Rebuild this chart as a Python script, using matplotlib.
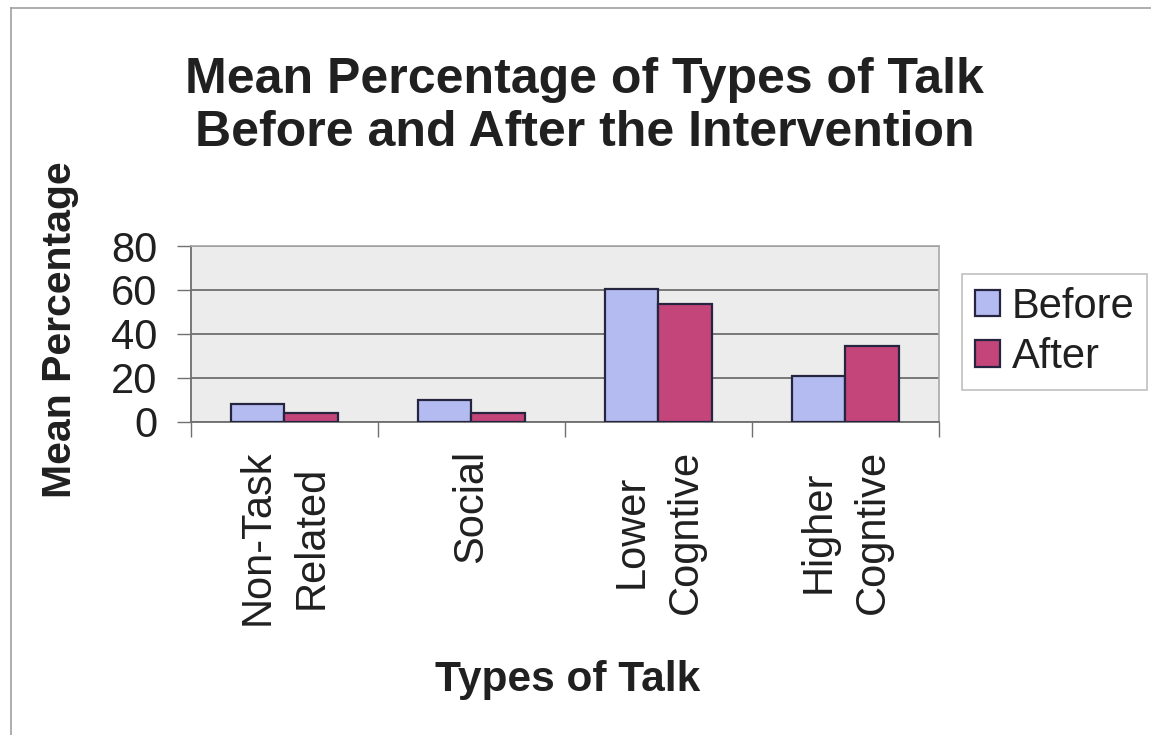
import matplotlib
matplotlib.use("Agg")
import matplotlib.pyplot as plt
from matplotlib.lines import Line2D
import numpy as np

categories = ["Non-Task\nRelated", "Social", "Lower\nCogntive", "Higher\nCogntive"]
before = [8, 10, 60.5, 21]
after = [4, 4, 53.5, 34.5]
series_names = ["Before", "After"]
yticks = [0, 20, 40, 60, 80]

plt.rcParams['font.family'] = ['Liberation Sans', 'DejaVu Sans']

fig = plt.figure(figsize=(11.51, 7.35), dpi=100)
fig.patch.set_facecolor('white')
# chart-area border (top and left visible in the scan)
fig.add_artist(Line2D([0.0095, 0.0095], [0.0, 0.989], transform=fig.transFigure,
                      color='#a0a0a0', linewidth=1.2))
fig.add_artist(Line2D([0.0095, 1.0], [0.989, 0.989], transform=fig.transFigure,
                      color='#a0a0a0', linewidth=1.2))

ax = fig.add_axes([0.1659, 0.4259, 0.6499, 0.2394])
ax.set_facecolor('#ececec')

x = np.arange(len(categories))
w = 0.2857
ax.bar(x - w / 2, before, w, color='#b3bbf1', edgecolor='#252540', linewidth=1.6,
       label=series_names[0], zorder=3)
ax.bar(x + w / 2, after, w, color='#c4457a', edgecolor='#252540', linewidth=1.6,
       label=series_names[1], zorder=3)

ax.set_xlim(-0.5, len(categories) - 0.5)
ax.set_ylim(0, 80)
ax.set_yticks(yticks)
ax.set_yticklabels([str(v) for v in yticks], fontsize=30, color='#202020')
ax.yaxis.grid(True, color='#6e6e6e', linewidth=1.3, zorder=1)
ax.set_axisbelow(True)

ax.set_xticks(np.arange(-0.5, len(categories)), minor=False)
ax.set_xticklabels([])
ax.set_xticks(x, minor=True)
ax.set_xticklabels(categories, minor=True, rotation=90, fontsize=30,
                   va='top', ha='center', multialignment='center', color='#202020',
                   linespacing=1.45)
ax.tick_params(axis='x', which='major', length=11, width=1.0, color='#707070', direction='out')
ax.tick_params(axis='x', which='minor', length=0, pad=20)
ax.tick_params(axis='y', length=10, width=1.0, color='#707070', pad=14)

for s in ['left', 'bottom']:
    ax.spines[s].set_color('#6e6e6e')
    ax.spines[s].set_linewidth(1.3)
for s in ['top', 'right']:
    ax.spines[s].set_color('#a8a8a8')
    ax.spines[s].set_linewidth(1.2)

fig.text(0.508, 0.855, "Mean Percentage of Types of Talk\nBefore and After the Intervention",
         ha='center', va='center', fontsize=36, fontweight='bold', color='#202020',
         linespacing=1.2)
fig.text(0.493, 0.075, "Types of Talk", ha='center', va='center', fontsize=30.5,
         fontweight='bold', color='#202020')
fig.text(0.052, 0.552, "Mean Percentage", ha='center', va='center', rotation=90,
         fontsize=29.5, fontweight='bold', color='#202020')

leg = ax.legend(loc='upper left', bbox_to_anchor=(0.8358, 0.627), bbox_transform=fig.transFigure,
                fontsize=30, frameon=True, fancybox=False, handlelength=0.6, handleheight=0.6,
                handletextpad=0.3, borderpad=0.3, labelspacing=0.25, borderaxespad=0)
leg.get_frame().set_edgecolor('#b0b0b0')
leg.get_frame().set_linewidth(1.2)
for t in leg.get_texts():
    t.set_color('#202020')

fig.savefig("out.png", dpi=100)
